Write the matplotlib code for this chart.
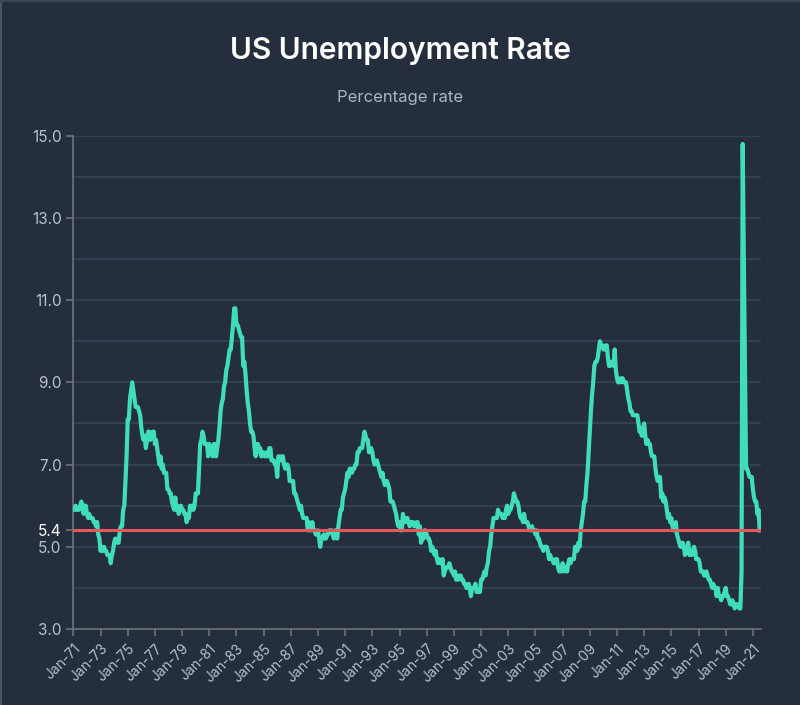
import numpy as np
import matplotlib.pyplot as plt
from matplotlib.lines import Line2D

# Monthly US unemployment rate (%), Jan 1971 - Jul 2021
years = list(range(1971, 2022))
rates = [
    [5.9, 5.9, 6.0, 5.9, 5.9, 5.9, 6.0, 6.1, 6.0, 5.8, 6.0, 6.0],   # 1971
    [5.8, 5.7, 5.8, 5.7, 5.7, 5.7, 5.6, 5.6, 5.5, 5.6, 5.3, 5.2],   # 1972
    [4.9, 5.0, 4.9, 5.0, 4.9, 4.9, 4.8, 4.8, 4.8, 4.6, 4.8, 4.9],   # 1973
    [5.1, 5.2, 5.1, 5.1, 5.1, 5.4, 5.5, 5.5, 5.9, 6.0, 6.6, 7.2],   # 1974
    [8.1, 8.1, 8.6, 8.8, 9.0, 8.8, 8.6, 8.4, 8.4, 8.4, 8.3, 8.2],   # 1975
    [7.9, 7.7, 7.6, 7.7, 7.4, 7.6, 7.8, 7.8, 7.6, 7.7, 7.8, 7.8],   # 1976
    [7.5, 7.6, 7.4, 7.2, 7.0, 7.2, 6.9, 7.0, 6.8, 6.8, 6.8, 6.4],   # 1977
    [6.4, 6.3, 6.3, 6.1, 6.0, 5.9, 6.2, 5.9, 6.0, 5.8, 5.9, 6.0],   # 1978
    [5.9, 5.9, 5.8, 5.8, 5.6, 5.7, 5.7, 6.0, 5.9, 6.0, 5.9, 6.0],   # 1979
    [6.3, 6.3, 6.3, 6.9, 7.5, 7.6, 7.8, 7.7, 7.5, 7.5, 7.5, 7.2],   # 1980
    [7.5, 7.4, 7.4, 7.2, 7.5, 7.5, 7.2, 7.4, 7.6, 7.9, 8.3, 8.5],   # 1981
    [8.6, 8.9, 9.0, 9.3, 9.4, 9.6, 9.8, 9.8, 10.1, 10.4, 10.8, 10.8],  # 1982
    [10.4, 10.4, 10.3, 10.2, 10.1, 10.1, 9.4, 9.5, 9.2, 8.8, 8.5, 8.3],  # 1983
    [8.0, 7.8, 7.8, 7.7, 7.4, 7.2, 7.5, 7.5, 7.3, 7.4, 7.2, 7.3],   # 1984
    [7.3, 7.2, 7.2, 7.3, 7.2, 7.4, 7.4, 7.1, 7.1, 7.1, 7.0, 7.0],   # 1985
    [6.7, 7.2, 7.2, 7.1, 7.2, 7.2, 7.0, 6.9, 7.0, 7.0, 6.9, 6.6],   # 1986
    [6.6, 6.6, 6.6, 6.3, 6.3, 6.2, 6.1, 6.0, 5.9, 6.0, 5.8, 5.7],   # 1987
    [5.7, 5.7, 5.7, 5.4, 5.6, 5.4, 5.4, 5.6, 5.4, 5.4, 5.3, 5.3],   # 1988
    [5.4, 5.2, 5.0, 5.2, 5.2, 5.3, 5.2, 5.2, 5.3, 5.3, 5.4, 5.4],   # 1989
    [5.4, 5.3, 5.2, 5.4, 5.4, 5.2, 5.5, 5.7, 5.9, 5.9, 6.2, 6.3],   # 1990
    [6.4, 6.6, 6.8, 6.7, 6.9, 6.9, 6.8, 6.9, 6.9, 7.0, 7.0, 7.3],   # 1991
    [7.3, 7.4, 7.4, 7.4, 7.6, 7.8, 7.7, 7.6, 7.6, 7.3, 7.4, 7.4],   # 1992
    [7.3, 7.1, 7.0, 7.1, 7.1, 7.0, 6.9, 6.8, 6.7, 6.8, 6.6, 6.5],   # 1993
    [6.6, 6.6, 6.5, 6.4, 6.1, 6.1, 6.1, 6.0, 5.9, 5.8, 5.6, 5.5],   # 1994
    [5.6, 5.4, 5.4, 5.8, 5.6, 5.6, 5.7, 5.7, 5.6, 5.5, 5.6, 5.6],   # 1995
    [5.6, 5.5, 5.5, 5.6, 5.6, 5.3, 5.5, 5.1, 5.2, 5.2, 5.4, 5.4],   # 1996
    [5.3, 5.2, 5.2, 5.1, 4.9, 5.0, 4.9, 4.8, 4.9, 4.7, 4.6, 4.7],   # 1997
    [4.6, 4.6, 4.7, 4.3, 4.4, 4.5, 4.5, 4.5, 4.6, 4.5, 4.4, 4.4],   # 1998
    [4.3, 4.4, 4.2, 4.3, 4.2, 4.3, 4.3, 4.2, 4.2, 4.1, 4.1, 4.0],   # 1999
    [4.0, 4.1, 4.0, 3.8, 4.0, 4.0, 4.0, 4.1, 3.9, 3.9, 3.9, 3.9],   # 2000
    [4.2, 4.2, 4.3, 4.4, 4.3, 4.5, 4.6, 4.9, 5.0, 5.3, 5.5, 5.7],   # 2001
    [5.7, 5.7, 5.7, 5.9, 5.8, 5.8, 5.8, 5.7, 5.7, 5.7, 5.9, 6.0],   # 2002
    [5.8, 5.9, 5.9, 6.0, 6.1, 6.3, 6.2, 6.1, 6.1, 6.0, 5.8, 5.7],   # 2003
    [5.7, 5.6, 5.8, 5.6, 5.6, 5.6, 5.5, 5.4, 5.4, 5.5, 5.4, 5.4],   # 2004
    [5.3, 5.4, 5.2, 5.2, 5.1, 5.0, 5.0, 4.9, 5.0, 5.0, 5.0, 4.9],   # 2005
    [4.7, 4.8, 4.7, 4.7, 4.6, 4.6, 4.7, 4.7, 4.5, 4.4, 4.5, 4.4],   # 2006
    [4.6, 4.5, 4.4, 4.5, 4.4, 4.6, 4.7, 4.6, 4.7, 4.7, 4.7, 5.0],   # 2007
    [5.0, 4.9, 5.1, 5.0, 5.4, 5.6, 5.8, 6.1, 6.1, 6.5, 6.8, 7.3],   # 2008
    [7.8, 8.3, 8.7, 9.0, 9.4, 9.5, 9.5, 9.6, 9.8, 10.0, 9.9, 9.9],  # 2009
    [9.8, 9.8, 9.9, 9.9, 9.6, 9.4, 9.4, 9.5, 9.5, 9.4, 9.8, 9.3],   # 2010
    [9.1, 9.0, 9.0, 9.1, 9.0, 9.1, 9.0, 9.0, 9.0, 8.8, 8.6, 8.5],   # 2011
    [8.3, 8.3, 8.2, 8.2, 8.2, 8.2, 8.2, 8.0, 7.8, 7.8, 7.7, 7.9],   # 2012
    [8.0, 7.7, 7.5, 7.6, 7.5, 7.5, 7.3, 7.2, 7.2, 7.2, 6.9, 6.7],   # 2013
    [6.6, 6.7, 6.7, 6.2, 6.3, 6.1, 6.2, 6.1, 5.9, 5.7, 5.8, 5.6],   # 2014
    [5.7, 5.5, 5.4, 5.4, 5.6, 5.3, 5.2, 5.1, 5.0, 5.0, 5.1, 5.0],   # 2015
    [4.8, 4.9, 5.0, 5.1, 4.8, 4.9, 4.8, 4.9, 5.0, 4.9, 4.7, 4.7],   # 2016
    [4.7, 4.6, 4.4, 4.4, 4.4, 4.3, 4.3, 4.4, 4.3, 4.2, 4.2, 4.1],   # 2017
    [4.0, 4.1, 4.0, 4.0, 3.8, 4.0, 3.8, 3.8, 3.7, 3.8, 3.8, 3.9],   # 2018
    [4.0, 3.8, 3.8, 3.7, 3.6, 3.6, 3.7, 3.6, 3.5, 3.6, 3.6, 3.6],   # 2019
    [3.5, 3.5, 4.4, 14.8, 12.0, 9.4, 6.9, 6.9, 6.8, 6.7, 6.7, 6.7],  # 2020
    [6.4, 6.2, 6.1, 6.1, 5.8, 5.9, 5.4],                          # 2021
]
reference_rate = 5.4
y_ticks = [3.0, 5.0, 5.4, 7.0, 9.0, 11.0, 13.0, 15.0]

values = [v for row in rates for v in row]
months = np.arange(len(values))
tick_pos = np.arange(0, len(values), 24)
tick_labels = ["Jan-%02d" % ((1971 + p // 12) % 100) for p in tick_pos]

bg = "#242e3d"
plt.rcParams["font.family"] = ["Inter", "DejaVu Sans"]

fig = plt.figure(figsize=(8, 7.05), dpi=100, facecolor=bg)
ax = fig.add_axes([0.0917, 0.1078, 0.8593, 0.6997], facecolor=bg)

# horizontal gridlines every 1.0
for g in range(4, 16):
    ax.axhline(g, color="#344257", lw=1.3, zorder=1)

ax.plot(months, values, color="#40ddbd", lw=3.0, solid_joinstyle="round", zorder=3)
ax.axhline(reference_rate, color="#e5575a", lw=2.2, zorder=4)

ax.set_xlim(0, len(values))
ax.set_ylim(3, 15)
ax.set_yticks(y_ticks)
ax.set_yticklabels(["%.1f" % t for t in y_ticks])
ax.set_xticks(tick_pos)
ax.set_xticklabels(tick_labels, rotation=45, ha="right", rotation_mode="anchor")

for s in ["top", "right"]:
    ax.spines[s].set_visible(False)
for s in ["left", "bottom"]:
    ax.spines[s].set_color("#6e737a")
    ax.spines[s].set_linewidth(1.2)
ax.tick_params(axis="both", colors="#6e737a", width=1.2, length=5,
               labelcolor="#b9c0c9")
ax.tick_params(axis="y", labelsize=11)
ax.tick_params(axis="x", labelsize=10, pad=4)
for lbl in ax.get_yticklabels():
    if lbl.get_text() == "5.4":
        lbl.set_color("white")

fig.text(0.5, 0.927, "US Unemployment Rate", ha="center", va="center",
         color="white", fontsize=21.5, fontweight="semibold")
fig.text(0.5, 0.862, "Percentage rate", ha="center", va="center",
         color="#a9b5c4", fontsize=12)

# thin frame lines on the left and top edges
fig.add_artist(Line2D([0.001, 0.001], [0, 1], color="#4a5462", lw=1.5))
fig.add_artist(Line2D([0, 1], [0.999, 0.999], color="#3a4454", lw=1.5))

fig.savefig("out.png", dpi=100, facecolor=bg)
